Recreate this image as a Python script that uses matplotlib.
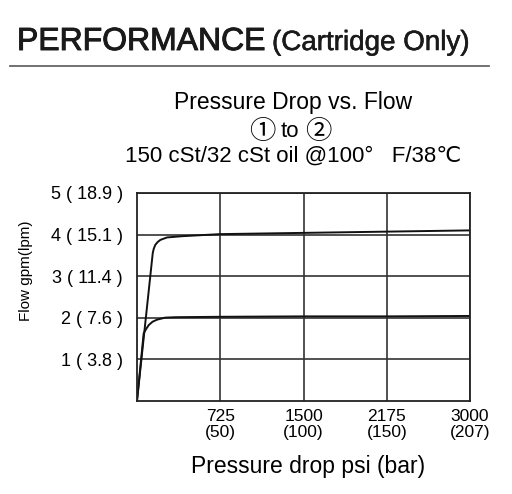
import numpy as np
import matplotlib
matplotlib.use("Agg")
import matplotlib.pyplot as plt
import matplotlib.patheffects as pe
from matplotlib.lines import Line2D

plt.rcParams['font.family'] = ['Liberation Sans', 'DejaVu Sans']

# tick values (psi) shown evenly spaced on the x axis
psi_ticks = [0, 725, 1500, 2175, 3000]
bar_ticks = [0, 50, 100, 150, 207]
gpm_ticks = [1, 2, 3, 4, 5]
lpm_ticks = ["3.8", "7.6", "11.4", "15.1", "18.9"]

# curves (psi, gpm)
high_psi = [0, 137, 145, 159, 180, 203, 261, 392, 725, 1500, 2175, 3000]
high_gpm = [0, 3.55, 3.65, 3.75, 3.82, 3.87, 3.93, 3.96, 4.01, 4.04, 4.07, 4.10]
low_psi = [0, 58, 78, 102, 135, 174, 246, 334, 725, 1500, 2175, 3000]
low_gpm = [0, 1.62, 1.72, 1.82, 1.90, 1.95, 2.0, 2.01, 2.02, 2.03, 2.03, 2.04]

W, H = 512, 494
fig = plt.figure(figsize=(W / 100, H / 100), dpi=100)

def px(x, y):
    return x / W, 1 - y / H

# header
thick = [pe.withStroke(linewidth=0.7, foreground="#1a1a1a")]
fig.text(*px(17, 50), "PERFORMANCE", fontsize=23, ha="left", va="baseline",
         color="#1a1a1a", path_effects=thick)
fig.text(*px(272, 50), "(Cartridge Only)", fontsize=20, ha="left", va="baseline",
         color="#1a1a1a", path_effects=[pe.withStroke(linewidth=0.4, foreground="#1a1a1a")])
fig.add_artist(Line2D([10 / W, 489 / W], [1 - 65.7 / H] * 2, color="#666666", lw=1.3))

# chart title
circ = ['Noto Sans CJK JP', 'DejaVu Sans']
fig.text(*px(293, 109), "Pressure Drop vs. Flow", fontsize=16.5, ha="center", va="baseline")
fig.text(*px(262, 139), "①", fontsize=19, ha="center", va="baseline", family=circ)
fig.text(*px(290, 137), "to", fontsize=16, ha="center", va="baseline")
fig.text(*px(318, 139), "②", fontsize=19, ha="center", va="baseline", family=circ)
fig.text(*px(293, 162), "150 cSt/32 cSt oil @100°   F/38℃", fontsize=16, ha="center", va="baseline")

l, r, t, b = 137, 470, 193, 400.7
ax = fig.add_axes([l / W, 1 - b / H, (r - l) / W, (b - t) / H])

pos = np.arange(len(psi_ticks))
fwd = lambda x: np.interp(x, psi_ticks, pos)
inv = lambda p: np.interp(p, pos, psi_ticks)
ax.set_xscale("function", functions=(fwd, inv))
ax.set_xlim(0, 3000)
ax.set_ylim(0, 5)

ax.plot(high_psi, high_gpm, color="#111111", lw=1.4)
ax.plot(low_psi, low_gpm, color="#111111", lw=1.4)

ax.set_xticks(psi_ticks[1:])
ax.set_xticklabels([f"{p}\n({bb})" for p, bb in zip(psi_ticks[1:], bar_ticks[1:])],
                   fontsize=12.5, linespacing=1.1)
ax.set_yticks(gpm_ticks)
ax.set_yticklabels([f"{g} ( {m} )" for g, m in zip(gpm_ticks, lpm_ticks)], fontsize=13)
ax.xaxis.set_minor_locator(matplotlib.ticker.NullLocator())
ax.tick_params(axis="x", length=0, pad=6)
ax.tick_params(axis="y", length=0, pad=10)
ax.grid(True, color="#333333", lw=1.2)
for s in ax.spines.values():
    s.set_color("#222222")
    s.set_linewidth(1.3)

fig.text(*px(308, 473), "Pressure drop psi (bar)", fontsize=16.5, ha="center", va="baseline")
fig.text(*px(26, 271), "Flow gpm(lpm)", fontsize=11, ha="center", va="center", rotation=90)

fig.savefig("out.png", dpi=100)
